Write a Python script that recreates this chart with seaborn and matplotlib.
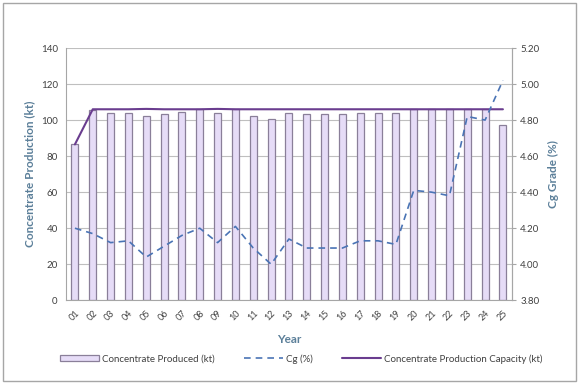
import numpy as np
import pandas as pd
import matplotlib
matplotlib.use('Agg')
import matplotlib.pyplot as plt
import seaborn as sns
from matplotlib.patches import Rectangle
from matplotlib.lines import Line2D
from matplotlib.patches import Patch

# chart data
years = ['01', '02', '03', '04', '05', '06', '07', '08', '09', '10', '11', '12', '13',
         '14', '15', '16', '17', '18', '19', '20', '21', '22', '23', '24', '25']
produced = [86.5, 105.5, 104, 104, 102, 103.5, 104.5, 106, 104, 106, 102.5, 100.5, 104,
            103.5, 103.5, 103.5, 104, 104, 104, 106, 106, 106, 106, 106, 97]
capacity = [86.5, 106, 106, 106, 106.2, 106, 106, 106, 106.2, 106, 106, 106, 106,
            106, 106, 106, 106, 106, 106, 106, 106, 106, 106, 106, 106]
cg = [4.20, 4.17, 4.12, 4.13, 4.04, 4.10, 4.16, 4.20, 4.12, 4.21, 4.09, 4.00, 4.14,
      4.09, 4.09, 4.09, 4.13, 4.13, 4.11, 4.41, 4.40, 4.38, 4.82, 4.80, 5.02]

df = pd.DataFrame({'Year': years, 'Produced': produced, 'Capacity': capacity, 'Cg': cg})

sns.set_style('white')
plt.rcParams['font.family'] = ['Lato', 'DejaVu Sans']

label_col = '#5b7f99'
tick_col = '#404040'
grid_col = '#bfbfbf'

fig = plt.figure(figsize=(5.79, 3.84), dpi=100)
ax = fig.add_axes([0.114, 0.218, 0.77, 0.657])

sns.barplot(data=df, x='Year', y='Produced', ax=ax, color='#e6dcf7',
            edgecolor='#8a7f99', linewidth=0.9, width=0.4, saturation=1, zorder=2)
ax.plot(np.arange(len(years)), df['Capacity'], color='#6a3d8f', lw=1.5, zorder=4)

ax.set_ylim(0, 140)
ax.set_yticks(range(0, 141, 20))
ax.set_xlim(-0.5, len(years) - 0.5)
ax.yaxis.grid(True, color=grid_col, lw=0.8, zorder=0)
ax.set_axisbelow(True)
ax.set_ylabel('Concentrate Production (kt)', color=label_col, fontsize=8.5, fontweight='bold')
ax.set_xlabel('Year', color=label_col, fontsize=8.5, fontweight='bold', labelpad=8)
ax.tick_params(axis='y', labelsize=7, colors=tick_col, length=0, pad=6)
ax.tick_params(axis='x', labelsize=6.5, colors=tick_col, length=0, pad=6)
plt.setp(ax.get_xticklabels(), rotation=45, ha='right', rotation_mode='anchor')
for sp in ['top']:
    ax.spines[sp].set_visible(False)
for sp in ['left', 'bottom', 'right']:
    ax.spines[sp].set_color('#a6a6a6')
    ax.spines[sp].set_linewidth(0.8)
# category separator ticks
ax.set_xticks(np.arange(-0.5, len(years)), minor=True)
ax.tick_params(axis='x', which='minor', length=3, color='#a6a6a6')

ax2 = ax.twinx()
ax2.plot(np.arange(len(years)), df['Cg'], color='#4a74b5', lw=1.2, ls=(0, (4, 3)), zorder=5)
ax2.set_ylim(3.8, 5.2)
ax2.set_yticks(np.arange(3.8, 5.21, 0.2))
ax2.set_yticklabels([f'{v:.2f}' for v in np.arange(3.8, 5.21, 0.2)])
ax2.set_ylabel('Cg Grade (%)', color=label_col, fontsize=8.5, fontweight='bold', labelpad=6)
ax2.tick_params(axis='y', labelsize=7, colors=tick_col, length=3, color='#a6a6a6', pad=3)
for sp in ['top', 'left', 'bottom']:
    ax2.spines[sp].set_visible(False)
ax2.spines['right'].set_color('#a6a6a6')
ax2.spines['right'].set_linewidth(0.8)

handles = [Patch(facecolor='#e6dcf7', edgecolor='#8a7f99', lw=0.9),
           Line2D([], [], color='#4a74b5', lw=1.2, ls=(0, (4, 3))),
           Line2D([], [], color='#6a3d8f', lw=1.5)]
labels = ['Concentrate Produced (kt)', 'Cg (%)', 'Concentrate Production Capacity (kt)']
fig.legend(handles, labels, loc='lower center', bbox_to_anchor=(0.52, 0.03), ncol=3,
           frameon=False, fontsize=7, handlelength=4, handleheight=0.6,
           columnspacing=3, handletextpad=0.3, labelcolor=tick_col)

fig.patches.append(Rectangle((0.005, 0.008), 0.99, 0.984, transform=fig.transFigure,
                             fill=False, edgecolor='#a6a6a6', lw=1))

fig.savefig('out.png', dpi=100)
